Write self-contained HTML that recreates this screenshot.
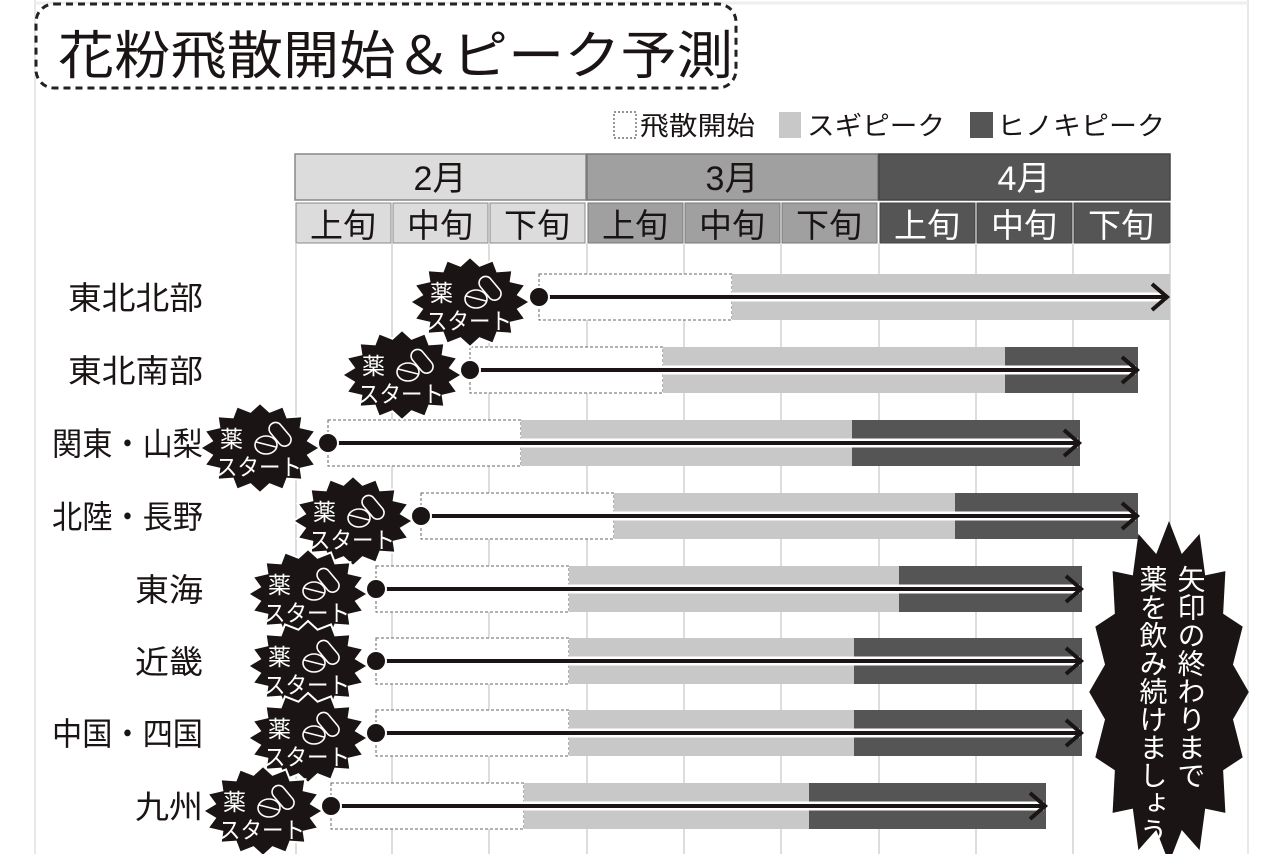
<!DOCTYPE html>
<html><head><meta charset="utf-8"><style>
html,body{margin:0;padding:0;background:#fff}
svg{display:block}
text{font-family:"Liberation Sans","Noto Sans CJK JP",sans-serif}
</style></head><body>
<svg width="1280" height="854" viewBox="0 0 1280 854" xmlns="http://www.w3.org/2000/svg">
<defs>
<polygon id="burst" points="60,0 48.1,7.2 55.4,17.2 40.7,20.6 42.4,31.8 27.2,30.7 23,41.6 9.6,36.3 0,45 -9.6,36.3 -23,41.6 -27.2,30.7 -42.4,31.8 -40.7,20.6 -55.4,17.2 -48.1,7.2 -60,0 -48.1,-7.2 -55.4,-17.2 -40.7,-20.6 -42.4,-31.8 -27.2,-30.7 -23,-41.6 -9.6,-36.3 0,-45 9.6,-36.3 23,-41.6 27.2,-30.7 42.4,-31.8 40.7,-20.6 55.4,-17.2 48.1,-7.2"/>
<g id="badge">
<use href="#burst" fill="#1a1414" stroke="#fff" stroke-width="2"/>
<text x="-40" y="-1" font-size="23" fill="#fff">薬</text>
<text x="-44" y="27" font-size="23" fill="#fff" textLength="86" lengthAdjust="spacingAndGlyphs">スタート</text>
<ellipse cx="6" cy="-3" rx="11" ry="9" fill="none" stroke="#fff" stroke-width="1.6"/>
<line x1="-4" y1="-6" x2="16" y2="-1" stroke="#fff" stroke-width="1.5"/>
<rect x="14" y="-27" width="13" height="27" rx="6.5" transform="rotate(-40 20 -13)" fill="none" stroke="#fff" stroke-width="1.6"/>
</g>
</defs>
<line x1="35" y1="0" x2="35" y2="854" stroke="#e8e8e8" stroke-width="2"/>
<line x1="1248" y1="0" x2="1248" y2="854" stroke="#e8e8e8" stroke-width="2"/>
<line x1="35" y1="3" x2="1248" y2="3" stroke="#eee" stroke-width="3"/>
<rect x="36" y="4" width="700" height="84" rx="18" fill="#fff" stroke="#222" stroke-width="3" stroke-dasharray="7,5"/>
<text x="58" y="74" font-size="52" fill="#1a1414" textLength="675" lengthAdjust="spacingAndGlyphs">花粉飛散開始＆ピーク予測</text>
<!-- legend -->
<rect x="614" y="112" width="22" height="26" fill="#fff" stroke="#555" stroke-width="1.2" stroke-dasharray="2,2"/>
<text x="640" y="135" font-size="26" fill="#1a1414" textLength="115" lengthAdjust="spacingAndGlyphs">飛散開始</text>
<rect x="779" y="112" width="22" height="26" fill="#c8c8c8"/>
<text x="807" y="135" font-size="26" fill="#1a1414" textLength="138" lengthAdjust="spacingAndGlyphs">スギピーク</text>
<rect x="970" y="112" width="23" height="26" fill="#555"/>
<text x="997" y="135" font-size="26" fill="#1a1414" textLength="168" lengthAdjust="spacingAndGlyphs">ヒノキピーク</text>
<!-- header -->
<rect x="295" y="154" width="291" height="46" fill="#dcdcdc" stroke="#888" stroke-width="1.5"/>
<rect x="587" y="154" width="291" height="46" fill="#a0a0a0" stroke="#777" stroke-width="1.5"/>
<rect x="879" y="154" width="291" height="46" fill="#555" stroke="#444" stroke-width="1.5"/>
<g font-size="34" text-anchor="middle">
<text x="440" y="190" fill="#1a1414">2月</text>
<text x="732" y="190" fill="#1a1414">3月</text>
<text x="1024" y="190" fill="#fff">4月</text>
</g>
<g font-size="33" text-anchor="middle">
<rect x="296" y="203" width="95" height="40" fill="#dcdcdc" stroke="#888"/><text x="343" y="237" fill="#1a1414">上旬</text>
<rect x="393" y="203" width="95" height="40" fill="#dcdcdc" stroke="#888"/><text x="440" y="237" fill="#1a1414">中旬</text>
<rect x="490" y="203" width="95" height="40" fill="#dcdcdc" stroke="#888"/><text x="537" y="237" fill="#1a1414">下旬</text>
<rect x="588" y="203" width="95" height="40" fill="#a0a0a0" stroke="#777"/><text x="635" y="237" fill="#1a1414">上旬</text>
<rect x="685" y="203" width="95" height="40" fill="#a0a0a0" stroke="#777"/><text x="732" y="237" fill="#1a1414">中旬</text>
<rect x="782" y="203" width="95" height="40" fill="#a0a0a0" stroke="#777"/><text x="829" y="237" fill="#1a1414">下旬</text>
<rect x="880" y="203" width="95" height="40" fill="#555" stroke="#444"/><text x="927" y="237" fill="#fff">上旬</text>
<rect x="977" y="203" width="95" height="40" fill="#555" stroke="#444"/><text x="1024" y="237" fill="#fff">中旬</text>
<rect x="1074" y="203" width="96" height="40" fill="#555" stroke="#444"/><text x="1121" y="237" fill="#fff">下旬</text>
</g>
<!-- grid -->
<g stroke="#ddd" stroke-width="2">
<line x1="296" y1="243" x2="296" y2="854"/><line x1="392" y1="243" x2="392" y2="854"/><line x1="489" y1="243" x2="489" y2="854"/><line x1="587" y1="243" x2="587" y2="854"/><line x1="684" y1="243" x2="684" y2="854"/><line x1="781" y1="243" x2="781" y2="854"/><line x1="879" y1="243" x2="879" y2="854"/><line x1="976" y1="243" x2="976" y2="854"/><line x1="1073" y1="243" x2="1073" y2="854"/><line x1="1170" y1="243" x2="1170" y2="854"/>
</g>
<!-- labels -->
<g font-size="32" fill="#1a1414" lengthAdjust="spacingAndGlyphs">
<text x="68" y="309" textLength="135" lengthAdjust="spacingAndGlyphs">東北北部</text>
<text x="68" y="382" textLength="135" lengthAdjust="spacingAndGlyphs">東北南部</text>
<text x="52" y="455" textLength="151" lengthAdjust="spacingAndGlyphs">関東・山梨</text>
<text x="52" y="528" textLength="151" lengthAdjust="spacingAndGlyphs">北陸・長野</text>
<text x="135" y="601" textLength="68" lengthAdjust="spacingAndGlyphs">東海</text>
<text x="135" y="673" textLength="68" lengthAdjust="spacingAndGlyphs">近畿</text>
<text x="52" y="745" textLength="151" lengthAdjust="spacingAndGlyphs">中国・四国</text>
<text x="135" y="818" textLength="68" lengthAdjust="spacingAndGlyphs">九州</text>
</g>
<g>
<rect x="539" y="274" width="193" height="46" fill="#fff" stroke="#666" stroke-dasharray="3,2"/>
<rect x="732" y="274" width="438" height="46" fill="#c8c8c8"/>
<rect x="470" y="347" width="193" height="46" fill="#fff" stroke="#666" stroke-dasharray="3,2"/>
<rect x="663" y="347" width="342" height="46" fill="#c8c8c8"/>
<rect x="1005" y="347" width="133" height="46" fill="#555"/>
<rect x="328" y="420" width="193" height="46" fill="#fff" stroke="#666" stroke-dasharray="3,2"/>
<rect x="521" y="420" width="331" height="46" fill="#c8c8c8"/>
<rect x="852" y="420" width="228" height="46" fill="#555"/>
<rect x="421" y="493" width="193" height="46" fill="#fff" stroke="#666" stroke-dasharray="3,2"/>
<rect x="614" y="493" width="341" height="46" fill="#c8c8c8"/>
<rect x="955" y="493" width="183" height="46" fill="#555"/>
<rect x="376" y="566" width="193" height="46" fill="#fff" stroke="#666" stroke-dasharray="3,2"/>
<rect x="569" y="566" width="330" height="46" fill="#c8c8c8"/>
<rect x="899" y="566" width="183" height="46" fill="#555"/>
<rect x="376" y="638" width="193" height="46" fill="#fff" stroke="#666" stroke-dasharray="3,2"/>
<rect x="569" y="638" width="285" height="46" fill="#c8c8c8"/>
<rect x="854" y="638" width="228" height="46" fill="#555"/>
<rect x="376" y="710" width="193" height="46" fill="#fff" stroke="#666" stroke-dasharray="3,2"/>
<rect x="569" y="710" width="285" height="46" fill="#c8c8c8"/>
<rect x="854" y="710" width="228" height="46" fill="#555"/>
<rect x="331" y="783" width="193" height="46" fill="#fff" stroke="#666" stroke-dasharray="3,2"/>
<rect x="524" y="783" width="285" height="46" fill="#c8c8c8"/>
<rect x="809" y="783" width="237" height="46" fill="#555"/>
</g>
<g stroke="#fff" stroke-width="9" fill="none">
<line x1="539" y1="297" x2="1166" y2="297"/><line x1="470" y1="370" x2="1136" y2="370"/><line x1="328" y1="443" x2="1078" y2="443"/><line x1="421" y1="516" x2="1136" y2="516"/><line x1="376" y1="589" x2="1080" y2="589"/><line x1="376" y1="661" x2="1080" y2="661"/><line x1="376" y1="733" x2="1080" y2="733"/><line x1="331" y1="806" x2="1044" y2="806"/>
</g>
<g stroke="#1a1414" stroke-width="4" fill="none">
<line x1="539" y1="297" x2="1166" y2="297"/><polyline points="1152,284 1167,297 1152,310"/>
<line x1="470" y1="370" x2="1136" y2="370"/><polyline points="1122,357 1137,370 1122,383"/>
<line x1="328" y1="443" x2="1078" y2="443"/><polyline points="1064,430 1079,443 1064,456"/>
<line x1="421" y1="516" x2="1136" y2="516"/><polyline points="1122,503 1137,516 1122,529"/>
<line x1="376" y1="589" x2="1080" y2="589"/><polyline points="1066,576 1081,589 1066,602"/>
<line x1="376" y1="661" x2="1080" y2="661"/><polyline points="1066,648 1081,661 1066,674"/>
<line x1="376" y1="733" x2="1080" y2="733"/><polyline points="1066,720 1081,733 1066,746"/>
<line x1="331" y1="806" x2="1044" y2="806"/><polyline points="1030,793 1045,806 1030,819"/>
</g>
<use href="#badge" transform="translate(470,302)"/>
<use href="#badge" transform="translate(402,375)"/>
<use href="#badge" transform="translate(260,448)"/>
<use href="#badge" transform="translate(353,521)"/>
<use href="#badge" transform="translate(308,594)"/>
<use href="#badge" transform="translate(308,666)"/>
<use href="#badge" transform="translate(308,738)"/>
<use href="#badge" transform="translate(263,811)"/>
<g fill="#1a1414" stroke="#fff" stroke-width="2">
<circle cx="539" cy="297" r="10"/><circle cx="470" cy="370" r="10"/><circle cx="328" cy="443" r="10"/><circle cx="421" cy="516" r="10"/><circle cx="376" cy="589" r="10"/><circle cx="376" cy="661" r="10"/><circle cx="376" cy="733" r="10"/><circle cx="331" cy="806" r="10"/>
</g>
<use href="#burst" transform="translate(1169,692) scale(1.33,3.8)" fill="#1a1414"/>
<g font-size="28" fill="#fff">
<text x="1190" y="565" style="writing-mode:tb">矢印の終わりまで</text>
<text x="1152" y="565" style="writing-mode:tb">薬を飲み続けましょう</text>
</g>
</svg>
</body></html>
